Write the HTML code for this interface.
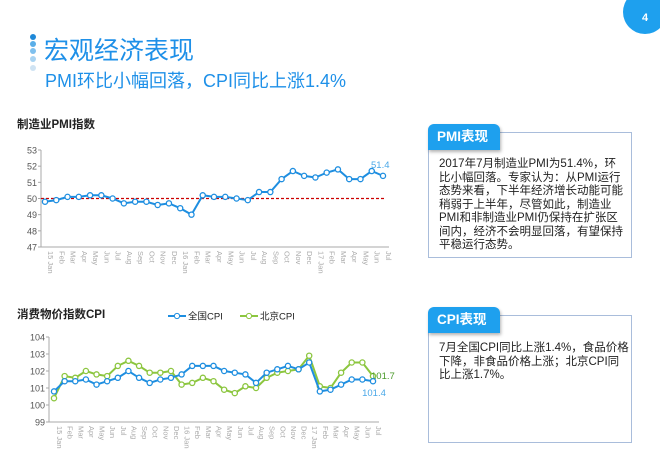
<!DOCTYPE html>
<html><head><meta charset="utf-8"><style>
body{margin:0;width:660px;height:460px;background:#fff;position:relative;overflow:hidden;font-family:"Liberation Sans","Noto Sans CJK SC",sans-serif}
.abs{position:absolute}
.box{position:absolute;border:1px solid #a9bddb;background:#fff;box-sizing:border-box}
.tab{position:absolute;background:#1ea0ee;color:#fff;font-weight:bold;font-size:13.5px;border-radius:6px 6px 0 0;box-shadow:1px 2px 3px rgba(0,0,0,.3);line-height:26px;padding-left:9px;box-sizing:border-box}
.txt{position:absolute;font-size:11.5px;line-height:13.5px;color:#222}
</style></head><body>
<div class="abs" style="left:623px;top:-10px;width:44px;height:44px;border-radius:50%;background:#1ea0ee;color:#fff;font-size:11px;font-weight:bold;text-align:center;line-height:56px">4</div>
<svg class="abs" style="left:28px;top:33px" width="12" height="40">
<circle cx="5" cy="4" r="3" fill="#1e88d8"/><circle cx="5" cy="11" r="3" fill="#5aaee8"/><circle cx="5" cy="18" r="3" fill="#7fc0ee"/><circle cx="5" cy="26" r="3" fill="#a8d3f2"/><circle cx="5" cy="35" r="3" fill="#cfe3f3"/></svg>
<div class="abs" style="left:44px;top:36px;font-size:25px;color:#1e90e8;line-height:30px">宏观经济表现</div>
<div class="abs" style="left:45px;top:69px;font-size:18px;color:#1e90e8;line-height:24px">PMI环比小幅回落，CPI同比上涨1.4%</div>
<div class="abs" style="left:17px;top:116px;font-size:11.5px;font-weight:bold;color:#222">制造业PMI指数</div>
<div class="abs" style="left:17px;top:306px;font-size:11.5px;font-weight:bold;color:#222">消费物价指数CPI</div>

<svg class="abs" id="pmi" style="left:0;top:130px" width="400" height="150"></svg>
<svg class="abs" id="cpi" style="left:0;top:300px" width="400" height="160"></svg>

<div class="box" style="left:428px;top:132px;width:204px;height:126px"></div>
<div class="tab" style="left:428px;top:124px;width:72px;height:26px">PMI表现</div>
<div class="txt" style="left:439px;top:158px;width:184px">2017年7月制造业PMI为51.4%，环比小幅回落。专家认为：从PMI运行态势来看，下半年经济增长动能可能稍弱于上半年，尽管如此，制造业PMI和非制造业PMI仍保持在扩张区间内，经济不会明显回落，有望保持平稳运行态势。</div>
<div class="box" style="left:428px;top:315px;width:204px;height:128px"></div>
<div class="tab" style="left:428px;top:307px;width:72px;height:26px">CPI表现</div>
<div class="txt" style="left:439px;top:342px;width:190px">7月全国CPI同比上涨1.4%，食品价格下降，非食品价格上涨；北京CPI同比上涨1.7%。</div>

<script>
const months=["15 Jan","Feb","Mar","Apr","May","Jun","Jul","Aug","Sep","Oct","Nov","Dec","16 Jan","Feb","Mar","Apr","May","Jun","Jul","Aug","Sep","Oct","Nov","Dec","17 Jan","Feb","Mar","Apr","May","Jun","Jul"];
const pmiValues=[49.8,49.9,50.1,50.1,50.2,50.2,50.0,49.7,49.8,49.8,49.6,49.7,49.4,49.0,50.2,50.1,50.1,50.0,49.9,50.4,50.4,51.2,51.7,51.4,51.3,51.6,51.8,51.2,51.2,51.7,51.4];
const pmiTicks=[47,48,49,50,51,52,53];
const cpiNational=[100.8,101.4,101.4,101.5,101.2,101.4,101.6,102.0,101.6,101.3,101.5,101.6,101.8,102.3,102.3,102.3,102.0,101.9,101.8,101.3,101.9,102.1,102.3,102.1,102.5,100.8,100.9,101.2,101.5,101.5,101.4];
const cpiBeijing=[100.4,101.7,101.6,102.0,101.8,101.7,102.3,102.6,102.3,101.9,101.9,102.0,101.2,101.3,101.6,101.4,100.9,100.7,101.1,101.0,101.6,101.9,102.0,102.1,102.9,101.1,101.0,101.9,102.5,102.5,101.7];
const cpiTicks=[99,100,101,102,103,104];
const NS="http://www.w3.org/2000/svg";
function mk(svg,tag,attrs,text){const e=document.createElementNS(NS,tag);for(const k in attrs)e.setAttribute(k,attrs[k]);if(text!==undefined)e.textContent=text;svg.appendChild(e);return e;}
function drawChart(svg,cfg){
  const xs=i=>cfg.x0+i*(cfg.x1-cfg.x0)/(months.length-1);
  const ys=v=>cfg.yb+(v-cfg.ymin)/(cfg.ymax-cfg.ymin)*(cfg.yt-cfg.yb);
  const ax=mk(svg,'line',{x1:cfg.ax,y1:ys(cfg.ymax),x2:cfg.ax,y2:ys(cfg.ymin),stroke:'#aaa','stroke-width':1});
  
  const bx=mk(svg,'line',{x1:cfg.ax,y1:ys(cfg.ymin),x2:cfg.x1+6,y2:ys(cfg.ymin),stroke:'#aaa','stroke-width':1});
  
  cfg.ticks.forEach(t=>{
    const l=mk(svg,'text',{x:cfg.ax-4,y:ys(t)+3.5,'text-anchor':'end','font-size':9,fill:'#555'},t);
    
    mk(svg,'line',{x1:cfg.ax-3,y1:ys(t),x2:cfg.ax,y2:ys(t),stroke:'#aaa'});
  });
  months.forEach((m,i)=>{
    const l=mk(svg,'text',{transform:`translate(${xs(i)+3},${ys(cfg.ymin)+4}) rotate(90)`,'font-size':7.5,fill:'#aaa'},m);
    
  });
  if(cfg.ref!==undefined){const r=mk(svg,'line',{x1:cfg.ax,y1:ys(cfg.ref),x2:cfg.x1+1,y2:ys(cfg.ref),stroke:'#c00','stroke-width':1.2,'stroke-dasharray':'3,2'});
    }
  cfg.series.forEach(s=>{
    const p=mk(svg,'polyline',{points:s.v.map((v,i)=>xs(i)+','+ys(v)).join(' '),fill:'none',stroke:s.c,'stroke-width':2});
    
    s.v.forEach((v,i)=>{const c=mk(svg,'circle',{cx:xs(i),cy:ys(v),r:2.6,fill:'#fff',stroke:s.c,'stroke-width':1.3});
      });
    const n=s.v.length-1;
    const lb=mk(svg,'text',{x:xs(n)+s.lx,y:ys(s.v[n])+s.ly,'font-size':9.5,fill:s.lc,'text-anchor':s.anchor||'start'},s.v[n].toFixed(1));
    
  });
}
drawChart(document.getElementById('pmi'),{x0:45,x1:383,ax:41,yb:117,yt:20,ymin:47,ymax:53,ticks:pmiTicks,ref:50,
  series:[{name:'pmi',v:pmiValues,c:'#1e8ee0',lc:'#4aa8e8',lx:-12,ly:-8}]});
drawChart(document.getElementById('cpi'),{x0:54,x1:373,ax:49,yb:122,yt:37,ymin:99,ymax:104,ticks:cpiTicks,
  series:[{name:'cpi-beijing',v:cpiBeijing,c:'#8cc63f',lc:'#4a9a2a',lx:-2,ly:3},
          {name:'cpi-national',v:cpiNational,c:'#1e8ee0',lc:'#4aa8e8',lx:1,ly:15,anchor:'middle'}]});
const svg=document.getElementById('cpi');
[['#1e8ee0','全国CPI',168,'legend-national'],['#8cc63f','北京CPI',240,'legend-beijing']].forEach(([c,t,x,n])=>{
  const g=mk(svg,'g',{});
  const gl=document.createElementNS(NS,'line');gl.setAttribute('x1',x);gl.setAttribute('y1',16);gl.setAttribute('x2',x+18);gl.setAttribute('y2',16);gl.setAttribute('stroke',c);gl.setAttribute('stroke-width',2);g.appendChild(gl);
  const gc=document.createElementNS(NS,'circle');gc.setAttribute('cx',x+9);gc.setAttribute('cy',16);gc.setAttribute('r',2.6);gc.setAttribute('fill','#fff');gc.setAttribute('stroke',c);g.appendChild(gc);
  const gt=document.createElementNS(NS,'text');gt.setAttribute('x',x+20);gt.setAttribute('y',19.5);gt.setAttribute('font-size',9.5);gt.setAttribute('fill','#222');gt.textContent=t;g.appendChild(gt);
});
</script>
</body></html>
